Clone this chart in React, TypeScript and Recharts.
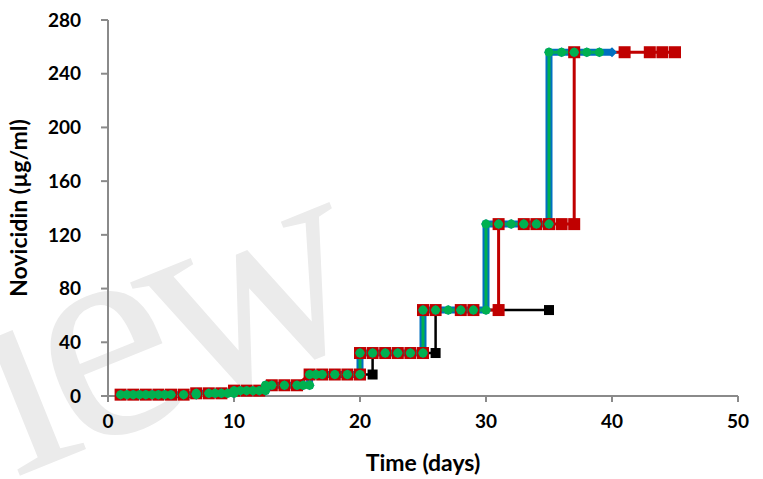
import React from "react";
import { LineChart, Line, XAxis, YAxis } from "recharts";

// MIC step data: [day, µg/ml]; duplicate days draw the vertical steps
type Pt = [number, number];

const blackPts: Pt[] = [
  [1, 1], [6, 1], [7, 2], [9, 2], [10, 4], [12, 4], [13, 8], [15, 8],
  [16, 16], [21, 16], [21, 32], [26, 32], [26, 64], [35, 64],
];

const redPts: Pt[] = [
  [1, 1], [2, 1], [3, 1], [4, 1], [5, 1], [6, 1],
  [7, 2], [8, 2], [9, 2],
  [10, 4], [11, 4], [12, 4],
  [13, 8], [14, 8], [15, 8],
  [16, 16], [17, 16], [18, 16], [19, 16], [20, 16],
  [20, 32], [21, 32], [22, 32], [23, 32], [24, 32], [25, 32],
  [25, 64], [26, 64], [28, 64], [29, 64], [31, 64],
  [31, 128], [33, 128], [34, 128], [35, 128], [36, 128], [37, 128],
  [37, 256], [41, 256], [43, 256], [44, 256], [45, 256],
];

const greenPts: Pt[] = [
  [1, 1], [1.5, 1], [2, 1], [2.5, 1], [3, 1], [3.5, 1], [4, 1], [4.5, 1], [5, 1], [6, 1], [7, 1],
  [7, 2], [8, 2], [8.5, 2], [9, 2], [9.5, 2], [10, 2],
  [10, 4], [10.5, 4], [11, 4], [11.5, 4], [12, 4], [12.5, 4],
  [12.5, 8], [13, 8], [14, 8], [15, 8], [15.5, 8], [16, 8],
  [16, 16], [16.5, 16], [17, 16], [18, 16], [19, 16], [20, 16],
  [20, 32], [21, 32], [22, 32], [23, 32], [24, 32], [25, 32],
  [25, 64], [26, 64], [27, 64], [28, 64], [29, 64], [30, 64],
  [30, 128], [31, 128], [32, 128], [33, 128], [34, 128], [35, 128],
  [35, 256], [36, 256], [37, 256], [38, 256], [39, 256],
];

const bluePts: Pt[] = [...greenPts, [40, 256]];

const xTicks = [0, 10, 20, 30, 40, 50];
const yTicks = [0, 40, 80, 120, 160, 200, 240, 280];

const rows = (pts: Pt[]) => pts.map(([day, mic]) => ({ day, mic }));

const AXIS = "#8a8a8a";
const FONT = "Lato, 'Open Sans', sans-serif";
const tickStyle = { fill: "#000", fontSize: 19, fontWeight: 700, fontFamily: FONT };
const titleStyle = { fill: "#000", fontSize: 23, fontWeight: 700, fontFamily: FONT };

const square = (size: number, fill: string) => (p: any) => {
  if (p.cx == null || p.cy == null) return <g key={`n-${fill}-${p.index}`} />;
  return (
    <rect key={`s-${fill}-${p.index}`} x={p.cx - size / 2} y={p.cy - size / 2}
      width={size} height={size} fill={fill} />
  );
};

const diamond = (size: number, fill: string) => (p: any) => {
  if (p.cx == null || p.cy == null) return <g key={`n-${fill}-${p.index}`} />;
  const h = size / 2;
  return (
    <polygon key={`d-${fill}-${p.index}`} fill={fill}
      points={`${p.cx - h},${p.cy} ${p.cx},${p.cy - h} ${p.cx + h},${p.cy} ${p.cx},${p.cy + h}`} />
  );
};

export default function App() {
  return (
    <div style={{ position: "absolute", left: 0, top: 0, width: 763, height: 479, background: "#fff", overflow: "hidden" }}>
      {/* faint watermark behind the plot */}
      <svg width={763} height={479} style={{ position: "absolute", left: 0, top: 0 }}>
        <text x={14} y={478} transform="rotate(-22 14 478)" fontFamily="'Liberation Serif', serif"
          fontSize={300} letterSpacing={-18} fill="#ebebeb">iew</text>
      </svg>
      <div style={{ position: "absolute", left: 0, top: 0 }}>
        <LineChart width={763} height={479} margin={{ top: 20, right: 25, bottom: 0, left: 0 }}>
          <XAxis type="number" dataKey="day" domain={[0, 50]} ticks={xTicks} height={83}
            axisLine={{ stroke: AXIS, strokeWidth: 2 }} tickLine={{ stroke: AXIS, strokeWidth: 2 }}
            tickSize={6} tickMargin={13} tick={tickStyle} allowDuplicatedCategory={false}
            label={{ value: "Time (days)", position: "insideBottom", offset: 8, style: titleStyle }} />
          <YAxis type="number" dataKey="mic" domain={[0, 280]} ticks={yTicks} width={108}
            axisLine={{ stroke: AXIS, strokeWidth: 2 }} tickLine={{ stroke: AXIS, strokeWidth: 2 }}
            tickSize={7} tickMargin={20} tick={tickStyle}
            label={{ value: "Novicidin (µg/ml)", angle: -90, position: "insideLeft", offset: 19,
              style: { ...titleStyle, textAnchor: "middle" } }} />
          <Line data={rows(blackPts)} dataKey="mic" type="linear" stroke="#000" strokeWidth={2.5}
            dot={square(10, "#000")} activeDot={false} isAnimationActive={false} />
          <Line data={rows(redPts)} dataKey="mic" type="linear" stroke="#c00000" strokeWidth={3}
            dot={square(12, "#c00000")} activeDot={false} isAnimationActive={false} />
          <Line data={rows(bluePts)} dataKey="mic" type="linear" stroke="#0070c0" strokeWidth={7}
            dot={diamond(10, "#0070c0")} activeDot={false} isAnimationActive={false} />
          <Line data={rows(greenPts)} dataKey="mic" type="linear" stroke="#00b050" strokeWidth={3}
            dot={{ r: 4.5, fill: "#00b050", stroke: "none", strokeWidth: 0 }} activeDot={false}
            isAnimationActive={false} />
        </LineChart>
      </div>
    </div>
  );
}
